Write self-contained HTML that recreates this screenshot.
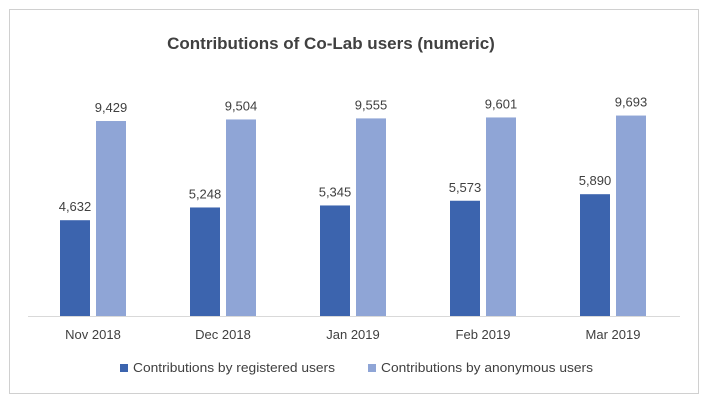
<!DOCTYPE html>
<html><head><meta charset="utf-8"><style>
body{margin:0;background:#fff;}
svg text{font-family:"Liberation Sans",sans-serif;fill:#404040;}
</style></head><body>
<svg id="chart" width="709" height="404">
<rect x="9.5" y="9.5" width="689" height="384" fill="#fff" stroke="#d0d0d0"/>
<text x="331" y="49" text-anchor="middle" font-size="17" font-weight="bold">Contributions of Co-Lab users (numeric)</text>
<line x1="28" y1="316.5" x2="680" y2="316.5" stroke="#d9d9d9"/>
<g id="bars"></g>
<g>
<rect x="120" y="364" width="8" height="8" fill="#3c64ae"/>
<text x="133" y="372" font-size="13" textLength="202" lengthAdjust="spacingAndGlyphs">Contributions by registered users</text>
<rect x="368" y="364" width="8" height="8" fill="#8fa5d6"/>
<text x="381" y="372" font-size="13" textLength="212" lengthAdjust="spacingAndGlyphs">Contributions by anonymous users</text>
</g>
</svg>
<script>
const categories=["Nov 2018","Dec 2018","Jan 2019","Feb 2019","Mar 2019"];
const registered=[4632,5248,5345,5573,5890];
const anonymous=[9429,9504,9555,9601,9693];
const baseY=316, scale=0.02068, x0=93, step=130, bw=30;
const yOf=v=>baseY-v*scale;
const xOf=i=>x0+i*step;
const g=document.getElementById('bars');
const NS="http://www.w3.org/2000/svg";
function bar(x,v,color,name){
  const r=document.createElementNS(NS,'rect');
  r.setAttribute('x',x);r.setAttribute('y',yOf(v));r.setAttribute('width',bw);r.setAttribute('height',baseY-yOf(v));r.setAttribute('fill',color);
  
  
  g.appendChild(r);
  const t=document.createElementNS(NS,'text');
  t.setAttribute('x',x+bw/2);t.setAttribute('y',yOf(v)-9);t.setAttribute('text-anchor','middle');t.setAttribute('font-size','13');
  t.textContent=v.toLocaleString('en-US');
  
  
  g.appendChild(t);
}
categories.forEach((c,i)=>{
  bar(xOf(i)-33,registered[i],'#3c64ae','bar-registered-'+i);
  bar(xOf(i)+3,anonymous[i],'#8fa5d6','bar-anonymous-'+i);
  const t=document.createElementNS(NS,'text');
  t.setAttribute('x',xOf(i));t.setAttribute('y',339);t.setAttribute('text-anchor','middle');t.setAttribute('font-size','13');
  t.textContent=c;
  
  
  g.appendChild(t);
});
</script>
</body></html>
